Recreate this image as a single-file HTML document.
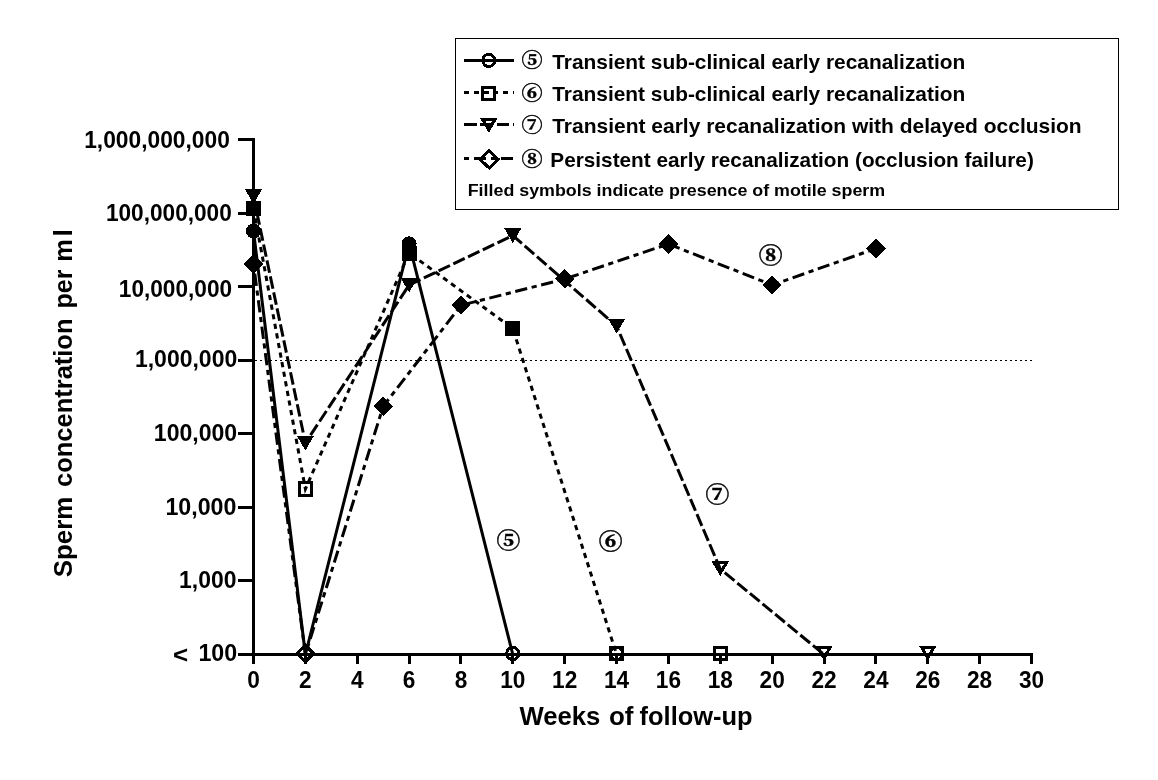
<!DOCTYPE html>
<html lang="en"><head><meta charset="utf-8"><title>Sperm concentration chart</title>
<style>
html,body{margin:0;padding:0;background:#fff;}
body{width:1158px;height:780px;overflow:hidden;}
svg{display:block;}
text{font-family:"Liberation Sans",sans-serif;font-weight:bold;fill:#000;}
.tick{font-size:22.6px;}
.ttl{font-size:26.5px;}
.lg{font-size:19.8px;}
.note{font-size:16.9px;}
.cn{font-family:"Liberation Serif","Noto Serif CJK SC","Noto Serif CJK JP","Noto Sans CJK SC",serif;font-weight:900;font-size:23.8px;stroke:#000;stroke-width:0.45px;}
.cl{font-family:"Liberation Serif","Noto Serif CJK SC","Noto Serif CJK JP","Noto Sans CJK SC",serif;font-weight:900;font-size:21.1px;stroke:#000;stroke-width:0.4px;}
</style></head><body>
<svg width="1158" height="780" viewBox="0 0 1158 780">
<rect width="1158" height="780" fill="#fff"/>
<g shape-rendering="crispEdges">
<line x1="255" y1="360.5" x2="1032" y2="360.5" stroke="#000" stroke-width="1" stroke-dasharray="2 3"/>
<rect x="252" y="138" width="3" height="518"/>
<rect x="238" y="653" width="795" height="3"/>
<rect x="238" y="138" width="15" height="3"/>
<rect x="238" y="212" width="15" height="3"/>
<rect x="238" y="285" width="15" height="3"/>
<rect x="238" y="359" width="15" height="3"/>
<rect x="238" y="432" width="15" height="3"/>
<rect x="238" y="506" width="15" height="3"/>
<rect x="238" y="579" width="15" height="3"/>
<rect x="238" y="653" width="15" height="3"/>
<rect x="252" y="655" width="3" height="9"/>
<rect x="304" y="655" width="3" height="9"/>
<rect x="356" y="655" width="3" height="9"/>
<rect x="408" y="655" width="3" height="9"/>
<rect x="459" y="655" width="3" height="9"/>
<rect x="511" y="655" width="3" height="9"/>
<rect x="563" y="655" width="3" height="9"/>
<rect x="615" y="655" width="3" height="9"/>
<rect x="667" y="655" width="3" height="9"/>
<rect x="719" y="655" width="3" height="9"/>
<rect x="771" y="655" width="3" height="9"/>
<rect x="823" y="655" width="3" height="9"/>
<rect x="874" y="655" width="3" height="9"/>
<rect x="926" y="655" width="3" height="9"/>
<rect x="978" y="655" width="3" height="9"/>
<rect x="1030" y="655" width="3" height="9"/>
</g>
<text class="tick" transform="translate(229.9 148.0) scale(1.009 1.06)" text-anchor="end">1,000,000,000</text>
<text class="tick" transform="translate(231.8 221.0) scale(1.002 1.06)" text-anchor="end">100,000,000</text>
<text class="tick" transform="translate(232.1 297.0) scale(1.002 1.06)" text-anchor="end">10,000,000</text>
<text class="tick" transform="translate(237.2 367.0) scale(1.018 1.06)" text-anchor="end">1,000,000</text>
<text class="tick" transform="translate(237.2 441.0) scale(1.021 1.06)" text-anchor="end">100,000</text>
<text class="tick" transform="translate(236.4 515.0) scale(1.028 1.06)" text-anchor="end">10,000</text>
<text class="tick" transform="translate(236.4 588.0) scale(1.013 1.06)" text-anchor="end">1,000</text>
<text class="tick" transform="translate(237.2 661.0) scale(1.028 1.06)" text-anchor="end">100</text>
<text class="tick" transform="translate(180.5 663.3) scale(1.15 1.05)" text-anchor="middle">&lt;</text>
<text class="tick" transform="translate(253.5 687.6) scale(1.002 1.06)" text-anchor="middle">0</text>
<text class="tick" transform="translate(305.4 687.6) scale(1.002 1.06)" text-anchor="middle">2</text>
<text class="tick" transform="translate(357.2 687.6) scale(1.002 1.06)" text-anchor="middle">4</text>
<text class="tick" transform="translate(409.1 687.6) scale(1.002 1.06)" text-anchor="middle">6</text>
<text class="tick" transform="translate(461.0 687.6) scale(1.002 1.06)" text-anchor="middle">8</text>
<text class="tick" transform="translate(512.8 687.6) scale(1.002 1.06)" text-anchor="middle">10</text>
<text class="tick" transform="translate(564.7 687.6) scale(1.002 1.06)" text-anchor="middle">12</text>
<text class="tick" transform="translate(616.6 687.6) scale(1.002 1.06)" text-anchor="middle">14</text>
<text class="tick" transform="translate(668.4 687.6) scale(1.002 1.06)" text-anchor="middle">16</text>
<text class="tick" transform="translate(720.3 687.6) scale(1.002 1.06)" text-anchor="middle">18</text>
<text class="tick" transform="translate(772.2 687.6) scale(1.002 1.06)" text-anchor="middle">20</text>
<text class="tick" transform="translate(824.0 687.6) scale(1.002 1.06)" text-anchor="middle">22</text>
<text class="tick" transform="translate(875.9 687.6) scale(1.002 1.06)" text-anchor="middle">24</text>
<text class="tick" transform="translate(927.8 687.6) scale(1.002 1.06)" text-anchor="middle">26</text>
<text class="tick" transform="translate(979.6 687.6) scale(1.002 1.06)" text-anchor="middle">28</text>
<text class="tick" transform="translate(1031.5 687.6) scale(1.002 1.06)" text-anchor="middle">30</text>
<text class="ttl" y="725.4"><tspan x="519.4" textLength="81" lengthAdjust="spacingAndGlyphs">Weeks</tspan> <tspan x="608.9" textLength="24.5" lengthAdjust="spacingAndGlyphs">of</tspan> <tspan x="639.6" textLength="113" lengthAdjust="spacingAndGlyphs">follow-up</tspan></text>
<text class="ttl" transform="translate(71.8 577) rotate(-90)"><tspan x="-0.2" textLength="80.5" lengthAdjust="spacingAndGlyphs">Sperm</tspan> <tspan x="90.1" textLength="168.4" lengthAdjust="spacingAndGlyphs">concentration</tspan> <tspan x="268.5" textLength="39" lengthAdjust="spacingAndGlyphs">per</tspan> <tspan x="315.2" textLength="22.5" lengthAdjust="spacingAndGlyphs">m</tspan><tspan x="340.4">l</tspan></text>
<g>
<polyline points="253.5,231.0 305.4,654.5 409.1,243.8 512.8,654.5" fill="none" stroke="#000" stroke-width="3"/>
<polyline points="253.5,208.7 305.4,489.0 409.1,253.0 512.8,328.5 616.6,654.5" fill="none" stroke="#000" stroke-width="3" stroke-dasharray="5.2 4.55"/>
<polyline points="253.5,196.5 305.4,443.0 409.1,285.0 512.8,235.5 616.6,326.0 720.3,569.0 824.0,654.5" fill="none" stroke="#000" stroke-width="3" stroke-dasharray="12.6 3.73"/>
<polyline points="253.5,264.0 305.4,654.5 383.2,406.3 461.0,305.3 564.7,279.0 668.4,244.0 772.2,285.0 875.9,248.5" fill="none" stroke="#000" stroke-width="3" stroke-dasharray="5.2 4.6 12.3 4.6"/>
</g>
<g shape-rendering="crispEdges">
<polygon points="243.8,264.0 253.5,254.3 263.2,264.0 253.5,273.7"/>
<polygon points="297.3,653.5 305.4,645.4 313.5,653.5 305.4,661.6" fill="none" stroke="#000" stroke-width="3"/>
<polygon points="373.5,406.3 383.2,396.6 392.9,406.3 383.2,416.0"/>
<polygon points="451.3,305.3 461.0,295.6 470.7,305.3 461.0,315.0"/>
<polygon points="555.0,279.0 564.7,269.3 574.4,279.0 564.7,288.7"/>
<polygon points="658.7,244.0 668.4,234.3 678.1,244.0 668.4,253.7"/>
<polygon points="762.5,285.0 772.2,275.3 781.9,285.0 772.2,294.7"/>
<polygon points="866.2,248.5 875.9,238.8 885.6,248.5 875.9,258.2"/>
<polygon points="244.8,189.0 262.2,189.0 253.5,204.0"/>
<polygon points="296.7,435.5 314.1,435.5 305.4,450.5"/>
<polygon points="400.4,277.5 417.8,277.5 409.1,292.5"/>
<polygon points="504.1,228.0 521.5,228.0 512.8,243.0"/>
<polygon points="607.9,318.5 625.3,318.5 616.6,333.5"/>
<polygon points="714.2,562.8 726.4,562.8 720.3,573.1" fill="none" stroke="#000" stroke-width="3"/>
<polygon points="817.9,647.5 830.1,647.5 824.0,657.9" fill="none" stroke="#000" stroke-width="3"/>
<polygon points="921.7,647.5 933.9,647.5 927.8,657.9" fill="none" stroke="#000" stroke-width="3"/>
<rect x="246.0" y="201.2" width="15" height="15"/>
<rect x="299.1" y="482.8" width="12.5" height="12.5" fill="none" stroke="#000" stroke-width="3"/>
<rect x="401.6" y="245.5" width="15" height="15"/>
<rect x="505.3" y="321.0" width="15" height="15"/>
<rect x="610.3" y="647.2" width="12.5" height="12.5" fill="none" stroke="#000" stroke-width="3"/>
<rect x="714.0" y="647.2" width="12.5" height="12.5" fill="none" stroke="#000" stroke-width="3"/>
<circle cx="253.5" cy="231.0" r="7.5"/>
<circle cx="409.1" cy="243.8" r="7.5"/>
<circle cx="512.8" cy="653.5" r="6.1" fill="none" stroke="#000" stroke-width="3"/>
<circle cx="616.6" cy="653.5" r="6.1" fill="none" stroke="#000" stroke-width="3"/>
</g>
<text class="cn" transform="translate(508.4 547.8) scale(1 0.92)" text-anchor="middle">⑤</text>
<text class="cn" transform="translate(610.6 549.0) scale(1 0.92)" text-anchor="middle">⑥</text>
<text class="cn" transform="translate(717.4 501.8) scale(1 0.92)" text-anchor="middle">⑦</text>
<text class="cn" transform="translate(770.6 263.0) scale(1 0.92)" text-anchor="middle">⑧</text>
<rect x="455.5" y="38.5" width="663" height="171" fill="none" stroke="#000" stroke-width="1" shape-rendering="crispEdges"/>
<g shape-rendering="crispEdges"><line x1="464" y1="60.5" x2="514" y2="60.5" stroke="#000" stroke-width="3"/><circle cx="488.8" cy="60.4" r="6.1" fill="none" stroke="#000" stroke-width="3"/></g>
<text class="cl" transform="translate(532.0 67.3) scale(1 0.91)" text-anchor="middle">⑤</text>
<text class="lg" x="552.2" y="68.6" textLength="413" lengthAdjust="spacingAndGlyphs">Transient sub-clinical early recanalization</text>
<g shape-rendering="crispEdges"><line x1="464" y1="92.5" x2="514" y2="92.5" stroke="#000" stroke-width="3" stroke-dasharray="5.2 4.55"/><rect x="482.4" y="87.2" width="12.5" height="12.5" fill="none" stroke="#000" stroke-width="3"/></g>
<text class="cl" transform="translate(532.0 100.3) scale(1 0.91)" text-anchor="middle">⑥</text>
<text class="lg" x="552.2" y="101.3" textLength="413" lengthAdjust="spacingAndGlyphs">Transient sub-clinical early recanalization</text>
<g shape-rendering="crispEdges"><line x1="464" y1="124.5" x2="514" y2="124.5" stroke="#000" stroke-width="3" stroke-dasharray="12.6 3.73"/><polygon points="482.7,119.6 494.9,119.6 488.8,129.9" fill="none" stroke="#000" stroke-width="3"/></g>
<text class="cl" transform="translate(532.0 132.3) scale(1 0.91)" text-anchor="middle">⑦</text>
<text class="lg" x="552.2" y="133.1" textLength="529.5" lengthAdjust="spacingAndGlyphs">Transient early recanalization with delayed occlusion</text>
<g shape-rendering="crispEdges"><line x1="464" y1="158.5" x2="514" y2="158.5" stroke="#000" stroke-width="3" stroke-dasharray="5.2 4.6 12.3 4.6"/><polygon points="480.1,159.4 489.2,150.8 498.3,159.4 489.2,168.0" fill="none" stroke="#000" stroke-width="3"/></g>
<text class="cl" transform="translate(532.0 166.0) scale(1 0.91)" text-anchor="middle">⑧</text>
<text class="lg" x="550.3" y="166.9" textLength="483.5" lengthAdjust="spacingAndGlyphs">Persistent early recanalization (occlusion failure)</text>
<text class="note" x="467.7" y="195.5" textLength="417.5" lengthAdjust="spacingAndGlyphs">Filled symbols indicate presence of motile sperm</text>
</svg></body></html>
